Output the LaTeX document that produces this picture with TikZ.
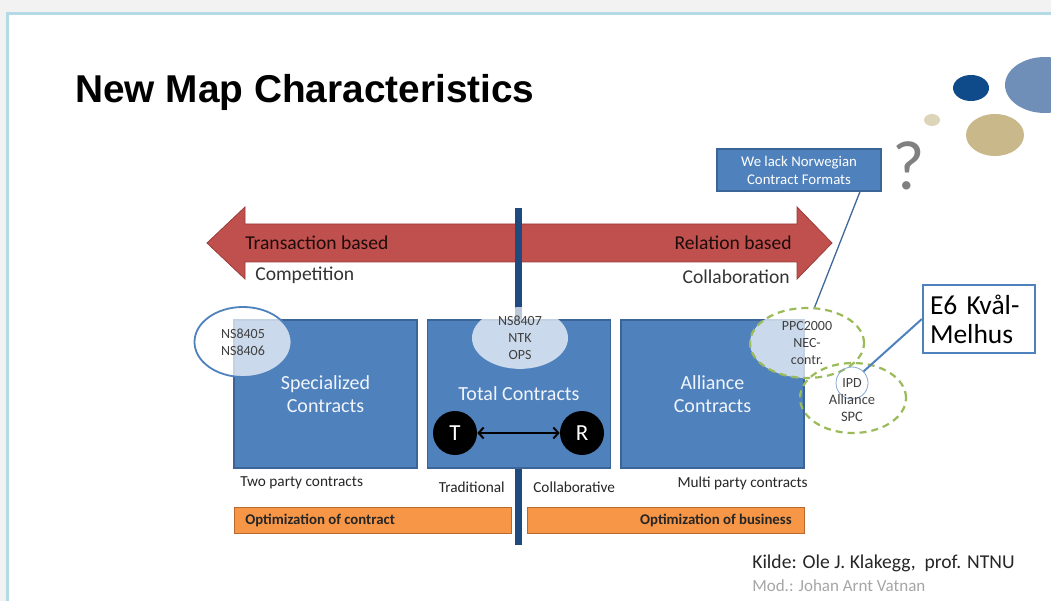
\documentclass[tikz,border=0pt]{standalone}
\usepackage{fontspec}
\setmainfont{Carlito}
\newfontfamily\titlefont{Liberation Sans}
\usepackage{xcolor}
\usetikzlibrary{shapes.geometric,arrows.meta}

\definecolor{boxblue}{HTML}{4F81BD}
\definecolor{boxedge}{HTML}{3C6597}
\definecolor{arrowred}{HTML}{C0504D}
\definecolor{arrowedge}{HTML}{9A3C3A}
\definecolor{barblue}{HTML}{1F4A80}
\definecolor{optorange}{HTML}{F79646}
\definecolor{optedge}{HTML}{B8692E}
\definecolor{dashgreen}{HTML}{9BBB59}
\definecolor{framecol}{HTML}{B4DAE5}
\definecolor{dotdark}{HTML}{0F4A8A}
\definecolor{dotlight}{HTML}{6F8FB8}
\definecolor{dottan}{HTML}{C8B88A}
\definecolor{dotbeige}{HTML}{DDD5BA}

\newcommand{\fs}[2]{\fontsize{#1}{#2}\selectfont}

\begin{document}
\begin{tikzpicture}[x=1pt,y=-1pt,>=stealth,semithick,
  every node/.style={inner sep=0pt,align=center},
  ctbox/.style={rectangle,fill=boxblue,draw=boxedge,line width=1.2pt,
    minimum width=183,minimum height=148,text=white!92!boxblue,font=\fs{20}{23.5}},
  tagell/.style={ellipse,fill=white,fill opacity=0.7,text opacity=1,
    text=black!75,font=\fs{14}{17}},
  dashell/.style={tagell,draw=dashgreen,line width=2.2pt,dash pattern=on 7pt off 5pt,draw opacity=1},
  person/.style={circle,fill=black,minimum size=44,text=white,font=\fs{23}{23}},
  optbar/.style={rectangle,fill=optorange,draw=optedge,line width=1pt,
    minimum width=277,minimum height=26},
  opttext/.style={font=\bfseries\fs{14.8}{15},text=black!85},
  undertext/.style={font=\fs{15.3}{16},text=black!85},
  scaletext/.style={font=\fs{19.6}{20},text=black!80}]
  \useasboundingbox (0,0) rectangle (1051,601);
  % slide background
  \fill[black!5] (0,0) rectangle (1051,601);
  \fill[white] (6,12) rectangle (1051,601);
  \draw[framecol,line width=3.5pt] (7.5,601) -- (7.5,13.5) -- (1051,13.5);

  % title and decoration
  \node (Title) [anchor=base west,font=\titlefont\bfseries\fs{38.8}{40}] at (75,103) {New Map Characteristics};
  \fill[dotlight] (1045,85) ellipse [x radius=40,y radius=28];
  \fill[dotdark] (971,88) ellipse [x radius=18,y radius=13];
  \fill[dotbeige] (932,120) ellipse [x radius=8,y radius=6];
  \fill[dottan] (995,135) ellipse [x radius=29,y radius=21];
  \node (Quest) [font=\fs{70}{70},text=black!50] at (909,166) {?};

  % scale arrow
  \draw[fill=arrowred,draw=arrowedge,line width=0.8pt]
    (207,243) -- (245,207) -- (245,224) -- (797,224) -- (797,207) -- (832,243)
    -- (797,279) -- (797,262) -- (245,262) -- (245,279) -- cycle;
  \node (Trans) [anchor=west,scaletext,text=black!85!arrowred] at (245,243) {Transaction based};
  \node (Rel) [anchor=east,scaletext,text=black!85!arrowred] at (792,243) {Relation based};
  \node (Comp) [anchor=west,scaletext] at (255,275) {Competition};
  \node (Coll) [anchor=east,scaletext] at (790,277) {Collaboration};
  \draw[barblue,line width=7pt] (518,208) -- (518,545);

  % contract boxes
  \node (Spec) [ctbox] at (325.5,394) {Specialized\\Contracts};
  \node (Total) [ctbox] at (519,394) {};
  \node (Alliance) [ctbox] at (712.5,394) {Alliance\\Contracts};
  \node (TotalText) [text=white!92!boxblue,font=\fs{20}{20}] at (519,394) {Total Contracts};
  \node (T) [person] at (455,433) {T};
  \node (R) [person] at (582,433) {R};
  \draw[<->,line width=2pt,>={Straight Barb[length=5pt,width=11pt]}] (T) -- (R);

  % contract formats
  \node (NS_A) [tagell,draw=boxblue,line width=1.8pt,draw opacity=1,
    minimum width=97,minimum height=70] at (243,342) {NS8405\\NS8406};
  \node (NS_B) [tagell,minimum width=96,minimum height=60] at (520,338) {NS8407\\NTK\\OPS};
  \node (PPC) [dashell,minimum width=114,minimum height=70] at (807,343) {PPC2000\\NEC-\\contr.};
  \node (SPC) [dashell,fill opacity=0,minimum width=106,minimum height=70] at (853,398) {};
  \node (IPD) [circle,draw=boxblue!70,line width=0.8pt,minimum size=32,
    font=\fs{14}{14},text=black!75] at (852,383) {IPD};
  \node (SPCText) [font=\fs{14.5}{17.5},text=black!75] at (852,408) {Alliance\\SPC};

  % callouts
  \node (Lack) [rectangle,fill=boxblue,draw=boxedge,line width=1.2pt,minimum width=164,
    minimum height=42,text=white,font=\fs{14.8}{18}] at (799,170) {We lack Norwegian\\Contract Formats};
  \node (E6) [rectangle,fill=white,draw=boxblue,line width=2.2pt,minimum width=112,minimum height=68,
    text width=98,align=left,font=\fs{27.5}{29}] at (979,319) {E6 Kvål-\\Melhus};
  \draw[boxblue!80!black,line width=1.3pt] ([xshift=61]Lack.south) -- (PPC.78);
  \draw[boxblue,line width=2pt] (IPD.45) -- (E6.west);

  % texts below boxes
  \node (TwoParty) [anchor=west,undertext] at (240,483) {Two party contracts};
  \node (Trad) [anchor=east,undertext] at (505,487) {Traditional};
  \node (Collab) [anchor=west,undertext] at (533,487) {Collaborative};
  \node (Multi) [anchor=east,undertext] at (808,483) {Multi party contracts};

  % optimization bars
  \node (OptC) [optbar] at (372.5,520) {};
  \node (OptB) [optbar] at (665.5,520) {};
  \node (OptCText) [anchor=west,opttext] at (245,520) {Optimization of contract};
  \node (OptBText) [anchor=east,opttext] at (792,520) {Optimization of business};

  % source
  \node (Src) [anchor=west,font=\fs{19.6}{20},text=black!85] at (752,563) {Kilde: Ole J. Klakegg,\ \ prof. NTNU};
  \node (Mod) [anchor=west,font=\fs{17}{17},text=black!35] at (752,586) {Mod.: Johan Arnt Vatnan};
\end{tikzpicture}
\end{document}
